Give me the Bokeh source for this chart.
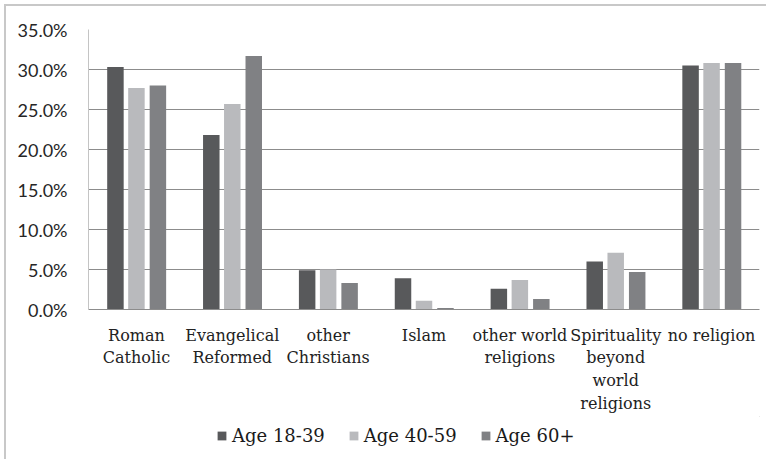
from bokeh.plotting import figure
from bokeh.layouts import column
from bokeh.models import ColumnDataSource, FactorRange, NumeralTickFormatter, Legend, LegendItem, FixedTicker
from bokeh.transform import dodge
from bokeh.embed import file_html
from bokeh.resources import INLINE

categories = ["Roman\nCatholic", "Evangelical\nReformed", "other\nChristians", "Islam",
              "other world\nreligions", "Spirituality\nbeyond\nworld\nreligions", "no religion"]
series_names = ["Age 18-39", "Age 40-59", "Age 60+"]
age_18_39 = [30.3, 21.8, 4.9, 3.9, 2.6, 6.0, 30.5]
age_40_59 = [27.7, 25.7, 5.0, 1.1, 3.7, 7.1, 30.8]
age_60_plus = [28.0, 31.7, 3.3, 0.2, 1.3, 4.7, 30.8]
y_ticks = [0.0, 0.05, 0.10, 0.15, 0.20, 0.25, 0.30, 0.35]

colors = ["#58595b", "#b9babd", "#808184"]
SANS = "Lato"
SERIF = "DejaVu Serif"

source = ColumnDataSource(data=dict(
    cat=categories,
    a=[v / 100 for v in age_18_39],
    b=[v / 100 for v in age_40_59],
    c=[v / 100 for v in age_60_plus],
))

p = figure(width=760, height=410, x_range=FactorRange(*categories, range_padding=0),
           y_range=(0, 0.35), output_backend="svg", toolbar_location=None,
           min_border_left=82, min_border_right=7, min_border_top=23, min_border_bottom=107)

offsets = [-0.219, 0.0, 0.224]
for col, off, color in zip(["a", "b", "c"], offsets, colors):
    p.vbar(x=dodge("cat", off, range=p.x_range), top=col, width=0.172, bottom=0,
           source=source, fill_color=color, line_color=None)

p.outline_line_color = None
p.background_fill_color = "white"
p.border_fill_color = "white"

p.xgrid.grid_line_color = None
p.ygrid.grid_line_color = "#8c8c8c"
p.ygrid.grid_line_width = 1.2

p.yaxis.ticker = FixedTicker(ticks=y_ticks)
p.yaxis.formatter = NumeralTickFormatter(format="0.0%")
p.yaxis.major_tick_line_color = None
p.yaxis.minor_tick_line_color = None
p.yaxis.axis_line_color = "#c4c4c4"
p.yaxis.major_label_text_font = SANS
p.yaxis.major_label_text_font_size = "18px"
p.yaxis.major_label_text_color = "#262626"
p.yaxis.major_label_standoff = 15

p.xaxis.major_tick_line_color = None
p.xaxis.minor_tick_line_color = None
p.xaxis.axis_line_color = "#8c8c8c"
p.xaxis.axis_line_width = 1.2
p.xaxis.major_label_text_font = SERIF
p.xaxis.major_label_text_font_size = "16px"
p.xaxis.major_label_text_color = "#222222"
p.xaxis.major_label_standoff = 10
p.xaxis.major_label_orientation = "horizontal"

# legend strip (frame aligned with the main chart by the column layout)
lg = figure(width=760, height=43, x_range=(0, 1), y_range=(0, 1), output_backend="svg",
            toolbar_location=None, min_border=0, x_axis_location=None, y_axis_location=None)
lg.grid.grid_line_color = None
lg.outline_line_color = None
lg.border_fill_color = "white"
swatches = [lg.vbar(x=[5], top=[5], bottom=[4], width=0.1, fill_color=c, line_color=None) for c in colors]
legend = Legend(items=[LegendItem(label=n, renderers=[r]) for n, r in zip(series_names, swatches)],
                orientation="horizontal", location=(128, 13),
                glyph_width=11, glyph_height=11, label_standoff=5, spacing=23,
                padding=0, margin=0, border_line_color=None, background_fill_alpha=0,
                label_text_font=SERIF, label_text_font_size="18px",
                label_text_color="#1a1a1a")
lg.add_layout(legend, "center")

layout = column(p, lg, spacing=0, margin=(4, 0, 0, 4),
                styles={"border-left": "2px solid #c8c8c8", "border-top": "2px solid #c8c8c8"})

open("out.html", "w").write(file_html(layout, INLINE))
